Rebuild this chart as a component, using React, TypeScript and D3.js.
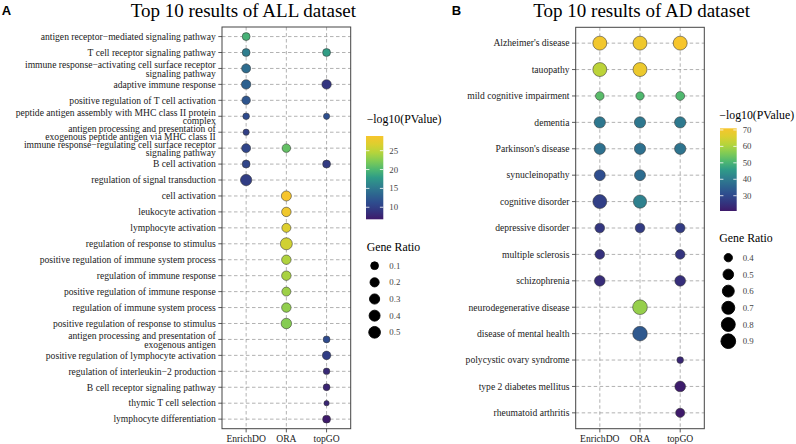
import React from "react";
import * as d3 from "d3";

// ---------- data ----------
const methods = ["EnrichDO", "ORA", "topGO"];

type Rec = [string, number, number]; // [term, gene ratio, -log10(PValue)]

const allTerms = [
  "antigen receptor−mediated signaling pathway",
  "T cell receptor signaling pathway",
  "immune response−activating cell surface receptor\nsignaling pathway",
  "adaptive immune response",
  "positive regulation of T cell activation",
  "peptide antigen assembly with MHC class II protein\ncomplex",
  "antigen processing and presentation of\nexogenous peptide antigen via MHC class II",
  "immune response−regulating cell surface receptor\nsignaling pathway",
  "B cell activation",
  "regulation of signal transduction",
  "cell activation",
  "leukocyte activation",
  "lymphocyte activation",
  "regulation of response to stimulus",
  "positive regulation of immune system process",
  "regulation of immune response",
  "positive regulation of immune response",
  "regulation of immune system process",
  "positive regulation of response to stimulus",
  "antigen processing and presentation of\nexogenous antigen",
  "positive regulation of lymphocyte activation",
  "regulation of interleukin−2 production",
  "B cell receptor signaling pathway",
  "thymic T cell selection",
  "lymphocyte differentiation",
];

const allEnrichDO: Rec[] = [
  [allTerms[0], 0.11, 19.5],
  [allTerms[1], 0.11, 15.5],
  [allTerms[2], 0.19, 14],
  [allTerms[3], 0.23, 13],
  [allTerms[4], 0.15, 12],
  [allTerms[5], 0.05, 11],
  [allTerms[6], 0.04, 10],
  [allTerms[7], 0.19, 10.5],
  [allTerms[8], 0.11, 10.5],
  [allTerms[9], 0.45, 9.8],
];

const allORA: Rec[] = [
  [allTerms[7], 0.15, 21],
  [allTerms[10], 0.29, 28.9],
  [allTerms[11], 0.23, 28.3],
  [allTerms[12], 0.19, 26.8],
  [allTerms[13], 0.55, 26],
  [allTerms[14], 0.23, 24.3],
  [allTerms[15], 0.23, 24],
  [allTerms[16], 0.19, 23.5],
  [allTerms[17], 0.23, 23],
  [allTerms[18], 0.34, 22.5],
];

const allTopGO: Rec[] = [
  [allTerms[1], 0.11, 18],
  [allTerms[3], 0.23, 9],
  [allTerms[5], 0.04, 11.5],
  [allTerms[8], 0.11, 9.5],
  [allTerms[19], 0.06, 11],
  [allTerms[20], 0.15, 9.8],
  [allTerms[21], 0.05, 8],
  [allTerms[22], 0.06, 7.6],
  [allTerms[23], 0.03, 7.8],
  [allTerms[24], 0.11, 6.8],
];

const adTerms = [
  "Alzheimer's disease",
  "tauopathy",
  "mild cognitive impairment",
  "dementia",
  "Parkinson's disease",
  "synucleinopathy",
  "cognitive disorder",
  "depressive disorder",
  "multiple sclerosis",
  "schizophrenia",
  "neurodegenerative disease",
  "disease of mental health",
  "polycystic ovary syndrome",
  "type 2 diabetes mellitus",
  "rheumatoid arthritis",
];

const adEnrichDO: Rec[] = [
  [adTerms[0], 0.81, 70],
  [adTerms[1], 0.81, 62],
  [adTerms[2], 0.41, 52],
  [adTerms[3], 0.55, 39],
  [adTerms[4], 0.55, 38],
  [adTerms[5], 0.53, 31],
  [adTerms[6], 0.81, 28],
  [adTerms[7], 0.45, 26],
  [adTerms[8], 0.45, 25],
  [adTerms[9], 0.51, 24],
];

const adORA: Rec[] = [
  [adTerms[0], 0.81, 69.5],
  [adTerms[1], 0.81, 69],
  [adTerms[2], 0.4, 51],
  [adTerms[3], 0.55, 39],
  [adTerms[4], 0.55, 38],
  [adTerms[5], 0.53, 37],
  [adTerms[6], 0.73, 41],
  [adTerms[7], 0.45, 27],
  [adTerms[10], 0.9, 58],
  [adTerms[11], 0.89, 33],
];

const adTopGO: Rec[] = [
  [adTerms[0], 0.81, 71],
  [adTerms[2], 0.42, 51],
  [adTerms[3], 0.55, 39.5],
  [adTerms[4], 0.55, 38.5],
  [adTerms[7], 0.45, 27],
  [adTerms[8], 0.45, 25.5],
  [adTerms[9], 0.51, 24.5],
  [adTerms[12], 0.38, 23],
  [adTerms[13], 0.51, 21],
  [adTerms[14], 0.43, 20.7],
];

const allColorTicks = [10, 15, 20, 25];
const allSizeBreaks = [0.1, 0.2, 0.3, 0.4, 0.5];
const adColorTicks = [30, 40, 50, 60, 70];
const adSizeBreaks = [0.4, 0.5, 0.6, 0.7, 0.8, 0.9];

const paletteColors = [
  "#3e1a6a",
  "#33357f",
  "#2e4c8e",
  "#2d668f",
  "#2f808e",
  "#2f9b87",
  "#4fb870",
  "#80cb55",
  "#b4d43c",
  "#dccf2f",
  "#f7c52c",
];

// ---------- drawing ----------
const serif = "'Liberation Serif', 'Times New Roman', serif";
const sans = "'Liberation Sans', Arial, sans-serif";
const palette = d3.piecewise(d3.interpolateRgb, paletteColors);

interface PanelProps {
  id: string;
  terms: string[];
  series: Rec[][];
  box: [number, number, number, number]; // x0, x1, y0, y1
  dRange: [number, number];
  colorTicks: number[];
  sizeBreaks: number[];
  leg: {
    titleX: number;
    titleY: number;
    barX: number;
    barTop: number;
    barW: number;
    barH: number;
    labX: number;
    sizeTitleY: number;
    keyX: number;
    keyY0: number;
    keyStep: number;
  };
}

function Panel(p: PanelProps) {
  const [x0, x1, y0, y1] = p.box;
  const x = d3.scalePoint<string>().domain(methods).range([x0, x1]).padding(0.6);
  const y = d3.scalePoint<string>().domain(p.terms).range([y0, y1]).padding(0.6);
  const all = p.series.flat();
  const pExt = d3.extent(all, (d) => d[2]) as [number, number];
  const rExt = d3.extent(all, (d) => d[1]) as [number, number];
  const color = d3.scaleSequential(palette).domain(pExt);
  const norm = d3.scaleLinear().domain(rExt).range([0, 1]);
  const dia = d3.scaleLinear().domain([0, 1]).range(p.dRange);
  const diam = (v: number) => dia(Math.sqrt(Math.max(0, norm(v))));
  const L = p.leg;
  const barY = d3.scaleLinear().domain(pExt).range([L.barTop + L.barH, L.barTop]);
  const gradId = "grad-" + p.id;
  const stops = d3.range(0, 21).map((i) => i / 20);
  const fs = 9.6;
  const lh = 8.4;

  return (
    <g>
      <defs>
        <linearGradient id={gradId} x1="0" y1="1" x2="0" y2="0">
          {stops.map((s) => (
            <stop key={s} offset={s} stopColor={palette(s)} />
          ))}
        </linearGradient>
      </defs>
      {/* grid */}
      {p.terms.map((t) => (
        <line key={"h" + t} x1={x0} x2={x1} y1={y(t)} y2={y(t)} stroke="#888" strokeWidth={0.65} strokeDasharray="3.5,2.5" />
      ))}
      {methods.map((m) => (
        <line key={"v" + m} x1={x(m)} x2={x(m)} y1={y0} y2={y1} stroke="#888" strokeWidth={0.65} strokeDasharray="3.5,2.5" />
      ))}
      {/* points */}
      {p.series.map((s, i) =>
        s.map((d) => (
          <circle
            key={methods[i] + d[0]}
            cx={x(methods[i])}
            cy={y(d[0])}
            r={diam(d[1]) / 2}
            fill={color(d[2])}
            stroke="#333"
            strokeWidth={0.55}
          />
        ))
      )}
      {/* border */}
      <rect x={x0} y={y0} width={x1 - x0} height={y1 - y0} fill="none" stroke="#444" strokeWidth={1} />
      {/* y axis */}
      {p.terms.map((t) => {
        const yy = y(t) as number;
        const lines = t.split("\n");
        return (
          <g key={"yl" + t}>
            <line x1={x0 - 3.7} x2={x0} y1={yy} y2={yy} stroke="#333" strokeWidth={0.8} />
            <text x={x0 - 6.2} textAnchor="end" fontFamily={serif} fontSize={fs} fill="#1a1a1a">
              {lines.map((ln, k) => (
                <tspan key={k} x={x0 - 6.2} y={yy + 3.3 + (k - (lines.length - 1) / 2) * lh + (lines.length > 1 ? 0.6 : 0)}>
                  {ln}
                </tspan>
              ))}
            </text>
          </g>
        );
      })}
      {/* x axis */}
      {methods.map((m) => (
        <g key={"xl" + m}>
          <line x1={x(m)} x2={x(m)} y1={y1} y2={y1 + 3.7} stroke="#333" strokeWidth={0.8} />
          <text x={x(m)} y={y1 + 13} textAnchor="middle" fontFamily={serif} fontSize={fs} fill="#1a1a1a">
            {m}
          </text>
        </g>
      ))}
      {/* color legend */}
      <text x={L.titleX} y={L.titleY} fontFamily={serif} fontSize={11.8} fill="#000">
        −log10(PValue)
      </text>
      <rect x={L.barX} y={L.barTop} width={L.barW} height={L.barH} fill={`url(#${gradId})`} />
      {p.colorTicks.map((t) => (
        <g key={"ct" + t}>
          <line x1={L.barX} x2={L.barX + 3.4} y1={barY(t)} y2={barY(t)} stroke="#fff" strokeWidth={0.8} />
          <line x1={L.barX + L.barW - 3.4} x2={L.barX + L.barW} y1={barY(t)} y2={barY(t)} stroke="#fff" strokeWidth={0.8} />
          <text x={L.labX} y={barY(t) + 3.1} fontFamily={serif} fontSize={8.8} fill="#444">
            {t}
          </text>
        </g>
      ))}
      {/* size legend */}
      <text x={L.titleX} y={L.sizeTitleY} fontFamily={serif} fontSize={11.8} fill="#000">
        Gene Ratio
      </text>
      {p.sizeBreaks.map((b, i) => (
        <g key={"sb" + b}>
          <circle cx={L.keyX} cy={L.keyY0 + i * L.keyStep} r={diam(b) / 2} fill="#000" stroke="#000" strokeWidth={0.9} />
          <text x={L.labX} y={L.keyY0 + i * L.keyStep + 3.1} fontFamily={serif} fontSize={8.8} fill="#444">
            {b.toFixed(1)}
          </text>
        </g>
      ))}
    </g>
  );
}

export default function App() {
  return (
    <svg
      width={796}
      height={444}
      viewBox="0 0 796 444"
      style={{ position: "absolute", left: 0, top: 0, background: "#fff" }}
    >
      <rect x={0} y={0} width={796} height={444} fill="#fff" />
      <text x={1.7} y={15.3} fontFamily={sans} fontWeight="bold" fontSize={13} fill="#000">
        A
      </text>
      <text x={451.7} y={15.3} fontFamily={sans} fontWeight="bold" fontSize={13} fill="#000">
        B
      </text>
      <text x={130.7} y={17} fontFamily={serif} fontSize={19} fill="#000">
        Top 10 results of ALL dataset
      </text>
      <text x={533.3} y={17} fontFamily={serif} fontSize={19} fill="#000">
        Top 10 results of AD dataset
      </text>
      <Panel
        id="all"
        terms={allTerms}
        series={[allEnrichDO, allORA, allTopGO]}
        box={[222, 350.7, 27, 428.7]}
        dRange={[5.3, 12]}
        colorTicks={allColorTicks}
        sizeBreaks={allSizeBreaks}
        leg={{
          titleX: 366.7,
          titleY: 122.7,
          barX: 366,
          barTop: 136,
          barW: 17.3,
          barH: 83.3,
          labX: 389.3,
          sizeTitleY: 250.5,
          keyX: 374.6,
          keyY0: 265.7,
          keyStep: 16.65,
        }}
      />
      <Panel
        id="ad"
        terms={adTerms}
        series={[adEnrichDO, adORA, adTopGO]}
        box={[575.7, 704.3, 27.3, 428.7]}
        dRange={[6.7, 14.7]}
        colorTicks={adColorTicks}
        sizeBreaks={adSizeBreaks}
        leg={{
          titleX: 719.3,
          titleY: 118.7,
          barX: 720,
          barTop: 128.3,
          barW: 16.7,
          barH: 82.7,
          labX: 742.7,
          sizeTitleY: 242,
          keyX: 728.3,
          keyY0: 257.7,
          keyStep: 16.7,
        }}
      />
    </svg>
  );
}
